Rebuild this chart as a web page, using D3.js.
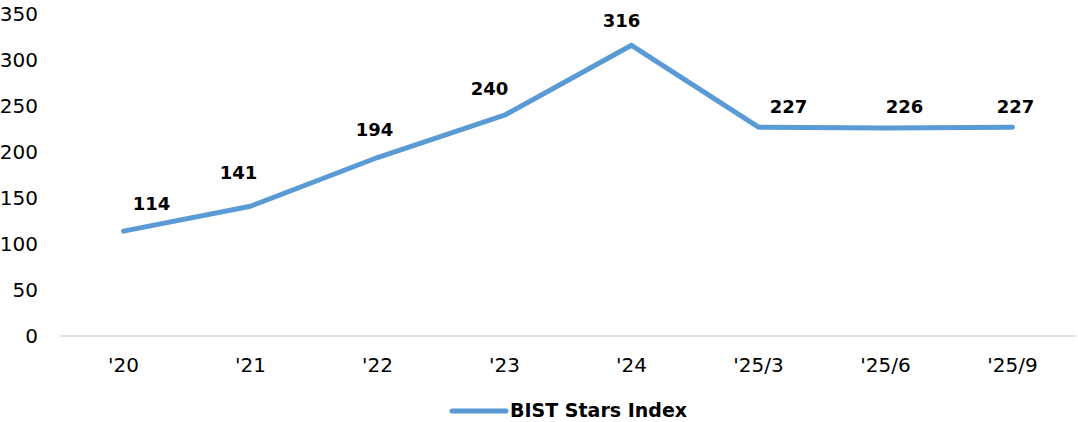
<!DOCTYPE html>
<html>
<head>
<meta charset="utf-8">
<script src="https://cdn.jsdelivr.net/npm/d3@7"></script>
<style>
  body { margin: 0; background: #fff; }
  svg text { font-family: "DejaVu Sans", Verdana, sans-serif; fill: #000; }
  .axis path, .axis line { display: none; }
</style>
</head>
<body>
<div id="canvas"></div>
<script>
// ---- DATA ----
var categories = ["'20", "'21", "'22", "'23", "'24", "'25/3", "'25/6", "'25/9"];
var values = [114, 141, 194, 240, 316, 227, 226, 227];
var yTicks = [0, 50, 100, 150, 200, 250, 300, 350];
var seriesName = 'BIST Stars Index';

// label nudges (px), as placed in the original
var labelDx = [28, -12, -3, -15, -10, 30, 19, 3];
var labelDy = [-21, -27, -22, -20, -18, -14, -15, -14];

// ---- CONVENTIONS ----
var outerWidth = 1078, outerHeight = 422;
var margin = {top: 14, right: 2, bottom: 86, left: 60};
var width = outerWidth - margin.left - margin.right,
    height = outerHeight - margin.top - margin.bottom;

var svg = d3.select('#canvas')
    .append('svg')
    .attr('width', outerWidth)
    .attr('height', outerHeight);

var plot = svg.append('g')
    .attr('transform', 'translate(' + margin.left + ',' + margin.top + ')');

// ---- SCALES ----
var scaleX = d3.scaleBand()
    .domain(categories)
    .range([0, width]);

var scaleY = d3.scaleLinear()
    .domain([0, 350])
    .range([height, 0]);

// ---- AXES ----
var axisY = d3.axisLeft(scaleY).tickValues(yTicks).tickSize(0).tickPadding(22);
plot.append('g').attr('class', 'axis axis-y')
    .call(axisY)
    .selectAll('text')
    .style('font-size', '20px');

var axisX = d3.axisBottom(scaleX).tickSize(0).tickPadding(22);
plot.append('g').attr('class', 'axis axis-x')
    .attr('transform', 'translate(0,' + height + ')')
    .call(axisX)
    .selectAll('text')
    .style('font-size', '20px');

// baseline
plot.append('line')
    .attr('x1', 0).attr('x2', width)
    .attr('y1', scaleY(0)).attr('y2', scaleY(0))
    .style('stroke', '#d9d9d9')
    .style('stroke-width', 1.5);

// ---- LINE ----
function cx(i){ return scaleX(categories[i]) + scaleX.bandwidth() / 2; }

var lineGenerator = d3.line()
    .x(function(d, i){ return cx(i); })
    .y(function(d){ return scaleY(d); });

plot.append('path')
    .datum(values)
    .attr('d', lineGenerator)
    .style('fill', 'none')
    .style('stroke', '#5b9bd5')
    .style('stroke-width', 5)
    .style('stroke-linecap', 'round')
    .style('stroke-linejoin', 'round');

// labels
plot.selectAll('.value-label')
    .data(values)
    .enter()
    .append('text')
    .attr('class', 'value-label')
    .attr('x', function(d, i){ return cx(i) + labelDx[i]; })
    .attr('y', function(d, i){ return scaleY(d) + labelDy[i]; })
    .attr('text-anchor', 'middle')
    .style('font-size', '18px')
    .style('font-weight', 'bold')
    .text(function(d){ return d; });

// ---- LEGEND ----
var legend = svg.append('g')
    .attr('transform', 'translate(452,411)');
legend.append('line')
    .attr('x1', 0).attr('x2', 54)
    .attr('y1', 0).attr('y2', 0)
    .style('stroke', '#5b9bd5')
    .style('stroke-width', 5)
    .style('stroke-linecap', 'round');
legend.append('text')
    .attr('x', 58)
    .attr('y', 6)
    .style('font-size', '19px')
    .style('font-weight', 'bold')
    .text(seriesName);
</script>
</body>
</html>
